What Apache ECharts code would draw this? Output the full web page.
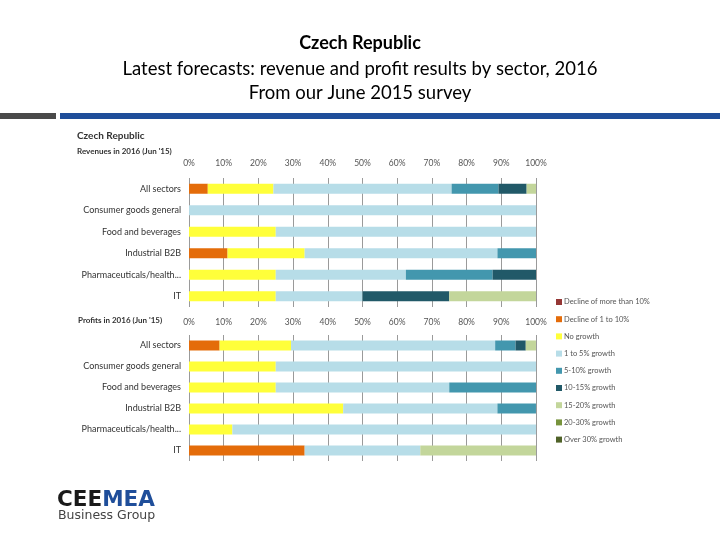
<!DOCTYPE html>
<html>
<head>
<meta charset="utf-8">
<script src="https://cdn.jsdelivr.net/npm/echarts@6/dist/echarts.min.js"></script>
<style>html,body{margin:0;padding:0;background:#fff;}#c{width:720px;height:540px;}</style>
</head>
<body>
<div id="c"></div>
<script>
var categories = ['All sectors','Consumer goods general','Food and beverages','Industrial B2B','Pharmaceuticals/health...','IT'];
var xTicks = [0,10,20,30,40,50,60,70,80,90,100];
var seriesNames = ['Decline of more than 10%','Decline of 1 to 10%','No growth','1 to 5% growth','5-10% growth','10-15% growth','15-20% growth','20-30% growth','Over 30% growth'];
var seriesColors = ['#953735','#E46C0A','#FFFF3A','#B7DDE8','#4397AE','#215968','#C3D69B','#77933C','#4F6228'];

// Revenues in 2016 (Jun '15), % of respondents
var revDeclineMore10 = [0, 0, 0, 0, 0, 0];
var revDecline1to10  = [5.41, 0, 0, 11.11, 0, 0];
var revNoGrowth      = [18.92, 0, 25, 22.22, 25, 25];
var rev1to5          = [51.35, 100, 75, 55.56, 37.5, 25];
var rev5to10         = [13.51, 0, 0, 11.11, 25, 0];
var rev10to15        = [8.11, 0, 0, 0, 12.5, 25];
var rev15to20        = [2.70, 0, 0, 0, 0, 25];
var rev20to30        = [0, 0, 0, 0, 0, 0];
var revOver30        = [0, 0, 0, 0, 0, 0];

// Profits in 2016 (Jun '15), % of respondents
var profDeclineMore10 = [0, 0, 0, 0, 0, 0];
var profDecline1to10  = [8.82, 0, 0, 0, 0, 33.33];
var profNoGrowth      = [20.59, 25, 25, 44.44, 12.5, 0];
var prof1to5          = [58.82, 75, 50, 44.44, 87.5, 33.33];
var prof5to10         = [5.88, 0, 25, 11.11, 0, 0];
var prof10to15        = [2.94, 0, 0, 0, 0, 0];
var prof15to20        = [2.94, 0, 0, 0, 0, 33.34];
var prof20to30        = [0, 0, 0, 0, 0, 0];
var profOver30        = [0, 0, 0, 0, 0, 0];

var revData = [revDeclineMore10, revDecline1to10, revNoGrowth, rev1to5, rev5to10, rev10to15, rev15to20, rev20to30, revOver30];
var profData = [profDeclineMore10, profDecline1to10, profNoGrowth, prof1to5, prof5to10, prof10to15, prof15to20, prof20to30, profOver30];

var FONT = 'Lato, "Open Sans", sans-serif';
var chart = echarts.init(document.getElementById('c'), null, {renderer:'canvas'});

function xAxisCfg(gi, margin){
  return {
    gridIndex: gi, type:'value', position:'top', min:0, max:100, interval:10,
    axisLine:{show:false}, axisTick:{show:false},
    axisLabel:{formatter:'{value}%', fontSize:8.5, color:'#555', fontFamily:FONT, margin:margin},
    splitLine:{show:true, lineStyle:{color:'#9a9a9a', width:1}}
  };
}
function yAxisCfg(gi){
  return {
    gridIndex: gi, type:'category', data:categories, inverse:true,
    axisLine:{show:false}, axisTick:{show:false},
    axisLabel:{fontSize:9, color:'#333', fontFamily:FONT, margin:8}
  };
}
var series = [];
seriesNames.forEach(function(n,i){
  series.push({name:n, type:'bar', stack:'rev', xAxisIndex:0, yAxisIndex:0, barWidth:10,
    itemStyle:{color:seriesColors[i]}, data:revData[i]});
});
seriesNames.forEach(function(n,i){
  series.push({name:n, type:'bar', stack:'prof', xAxisIndex:1, yAxisIndex:1, barWidth:10,
    itemStyle:{color:seriesColors[i]}, data:profData[i]});
});

chart.setOption({
  animation:false,
  title:[{
    text:'Czech Republic', left:'center', top:29,
    textStyle:{fontSize:18, fontWeight:'bold', color:'#000', fontFamily:FONT}
  },{
    text:'Latest forecasts: revenue and profit results by sector, 2016\nFrom our June 2015 survey',
    left:'center', top:52,
    textStyle:{fontSize:18.5, fontWeight:'normal', color:'#000', fontFamily:FONT, lineHeight:24}
  }],
  graphic:[
    {type:'rect', shape:{x:0,y:113,width:56,height:6}, style:{fill:'#4a4a4a'}},
    {type:'rect', shape:{x:60,y:113,width:660,height:6}, style:{fill:'#1F4E9A'}},
    {type:'text', left:77, top:131, style:{text:'Czech Republic', fontSize:10, fontWeight:'bold', fill:'#333', fontFamily:FONT}},
    {type:'text', left:77, top:147, style:{text:"Revenues in 2016 (Jun '15)", fontSize:8, fontWeight:'bold', fill:'#333', fontFamily:FONT}},
    {type:'text', left:78, top:316, style:{text:"Profits in 2016 (Jun '15)", fontSize:8, fontWeight:'bold', fill:'#333', fontFamily:FONT}},
    {type:'text', left:57, top:489, style:{
      text:'{a|CEE}{b|MEA}',
      rich:{
        a:{fontSize:21.5, fontWeight:'bold', fill:'#1a1a1a', color:'#1a1a1a', fontFamily:'"DejaVu Sans", sans-serif'},
        b:{fontSize:21.5, fontWeight:'bold', fill:'#1F4E9A', color:'#1F4E9A', fontFamily:'"DejaVu Sans", sans-serif'}
      }}},
    {type:'text', left:58, top:509, style:{text:'Business Group', fontSize:12.5, fill:'#444', fontFamily:'"DejaVu Sans", sans-serif'}}
  ],
  legend:{
    data:seriesNames, orient:'vertical', left:551, top:293,
    itemWidth:6, itemHeight:6, itemGap:9.2, icon:'rect',
    textStyle:{fontSize:7.5, color:'#555', fontFamily:FONT, padding:[0,0,0,-3]}
  },
  grid:[
    {left:189, width:347, top:178, height:129},
    {left:189, width:347, top:335, height:126}
  ],
  xAxis:[xAxisCfg(0, 10), xAxisCfg(1, 8)],
  yAxis:[yAxisCfg(0), yAxisCfg(1)],
  series:series
});
</script>
</body>
</html>
